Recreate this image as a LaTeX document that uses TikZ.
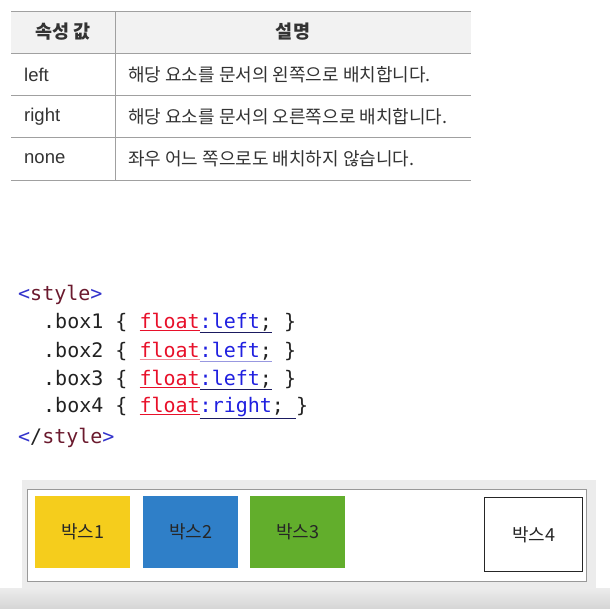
\documentclass[tikz,border=0pt]{standalone}
\usepackage{fontspec}
\setmainfont{Liberation Sans}
\setmonofont{DejaVu Sans Mono}
\newfontfamily\kr{Noto Sans CJK KR}
\definecolor{tline}{HTML}{A0A0A0}
\definecolor{thead}{HTML}{F2F2F2}
\definecolor{ttext}{HTML}{333333}
\definecolor{tagblue}{HTML}{3333CC}
\definecolor{tagname}{HTML}{6B1A2E}
\definecolor{cdark}{HTML}{222222}
\definecolor{cred}{HTML}{E8102A}
\definecolor{cblue}{HTML}{2020E0}
\definecolor{culdark}{HTML}{1A1A60}
\definecolor{cpink}{HTML}{F08A98}
\definecolor{clav}{HTML}{9898E0}
\definecolor{byellow}{HTML}{F5CD1C}
\definecolor{bblue}{HTML}{2F7FC8}
\definecolor{bgreen}{HTML}{62AE2C}
\definecolor{band}{HTML}{ECECEC}
\definecolor{inborder}{HTML}{999999}
\newcommand\ulseg[3]{\makebox[0pt][l]{\textcolor{#1}{\underline{\phantom{#2}}}}#3}
\tikzset{
  hdr/.style={font=\kr\bfseries\fontsize{18.5}{22}\selectfont, text=ttext, inner sep=0pt},
  lat/.style={font=\fontsize{18.5}{22}\selectfont, text=ttext, inner sep=0pt, anchor=west},
  desc/.style={font=\kr\fontsize{18}{22}\selectfont, text=ttext, inner sep=0pt, anchor=west},
  code/.style={font=\ttfamily\fontsize{20}{24}\selectfont, inner sep=0pt, anchor=west},
  fbox/.style={minimum width=95pt, minimum height=72pt, inner sep=0pt, anchor=north west,
    font=\kr\fontsize{18}{21}\selectfont, text=black!85},
}
\begin{document}
\begin{tikzpicture}[x=1pt,y=-1pt]
\useasboundingbox (0,0) rectangle (610,608);
\fill[white] (0,0) rectangle (610,608);
% ---------- table ----------
\fill[thead] (11,11) rectangle (471,53);
\foreach \yy in {11,53,95,137,180} \draw[tline, line width=1pt] (11,\yy) -- (471,\yy);
\draw[tline, line width=1pt] (115,11) -- (115,180);
\node[hdr] (h1) at (63,32) {속성 값};
\node[hdr] (h2) at (293,32) {설명};
\node[lat] (k1) at (24,75) {left};
\node[lat] (k2) at (24,117) {right};
\node[lat] (k3) at (24,159) {none};
\node[desc] (d1) at (128,75) {해당 요소를 문서의 왼쪽으로 배치합니다.};
\node[desc] (d2) at (128,117) {해당 요소를 문서의 오른쪽으로 배치합니다.};
\node[desc] (d3) at (128,159) {좌우 어느 쪽으로도 배치하지 않습니다.};
% ---------- code ----------
\node[code] (c0) at (18,295) {\textcolor{tagblue}{<}\textcolor{tagname}{style}\textcolor{tagblue}{>}};
\node[code] (c1) at (43,323) {\textcolor{cdark}{.box1\ \{\ }\ulseg{cred}{float}{\textcolor{cred}{float}}\ulseg{culdark}{:left;}{\textcolor{cblue}{:left}\textcolor{cdark}{;}}\textcolor{cdark}{\ \}}};
\node[code] (c2) at (43,352) {\textcolor{cdark}{.box2\ \{\ }\ulseg{cpink}{float}{\textcolor{cred}{float}}\ulseg{clav}{:left;}{\textcolor{cblue}{:left}\textcolor{cdark}{;}}\textcolor{cdark}{\ \}}};
\node[code] (c3) at (43,380) {\textcolor{cdark}{.box3\ \{\ }\ulseg{cred}{float}{\textcolor{cred}{float}}\ulseg{culdark}{:left;}{\textcolor{cblue}{:left}\textcolor{cdark}{;}}\textcolor{cdark}{\ \}}};
\node[code] (c4) at (43,408) {\textcolor{cdark}{.box4\ \{\ }\ulseg{cred}{float}{\textcolor{cred}{float}}\ulseg{culdark}{:right;\ }{\textcolor{cblue}{:right}\textcolor{cdark}{;\ }}\textcolor{cdark}{\}}};
\node[code] (c5) at (18,438) {\textcolor{tagblue}{<}\textcolor{cdark}{/}\textcolor{tagname}{style}\textcolor{tagblue}{>}};
% ---------- rendered result ----------
\shade[top color=band, bottom color=black!16] (0,588) rectangle (610,608);
\fill[band] (22,480) rectangle (596,588);
\draw[inborder, fill=white, line width=1pt] (27,489) rectangle (586,581);
\node[fbox, fill=byellow] (b1) at (35,496) {박스1};
\node[fbox, fill=bblue] (b2) at (143,496) {박스2};
\node[fbox, fill=bgreen] (b3) at (250,496) {박스3};
\node[fbox, draw=black!85, line width=1.3pt, fill=white, minimum width=98pt, minimum height=74pt] (b4) at (484,497) {박스4};
\end{tikzpicture}
\end{document}
